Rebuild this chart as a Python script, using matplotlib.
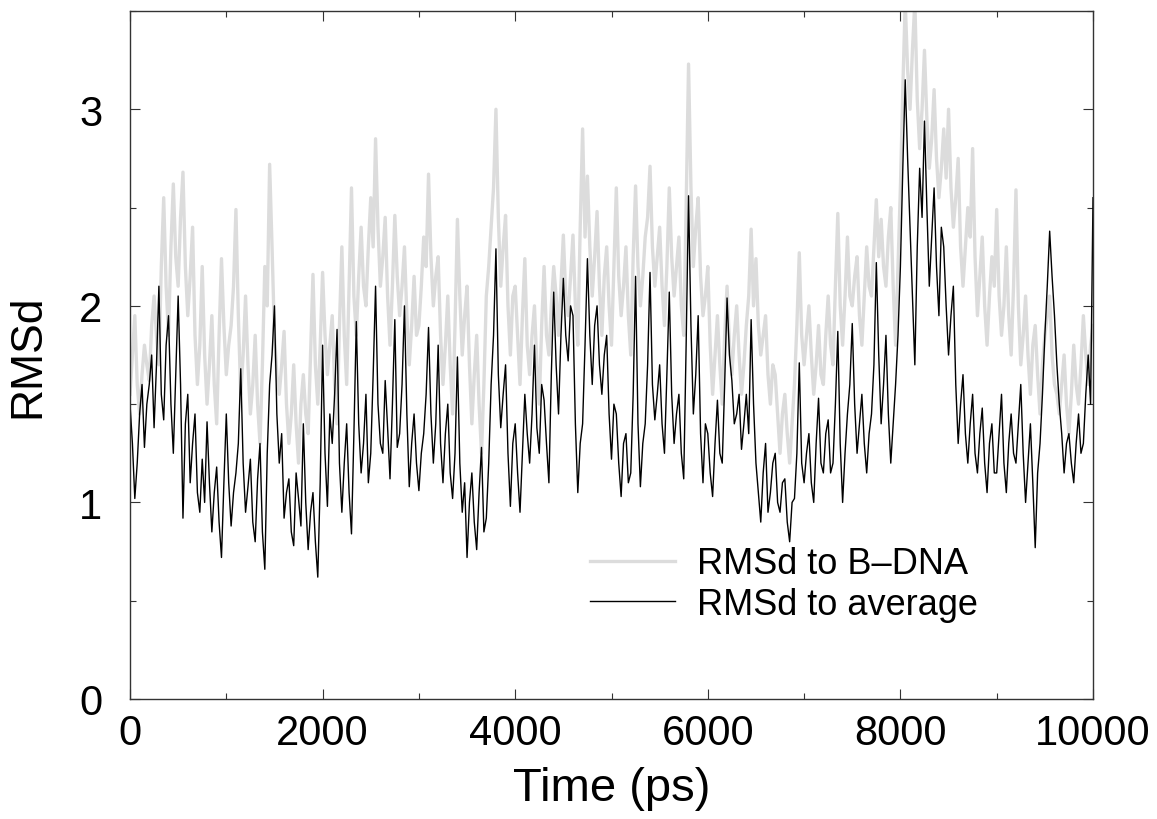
import matplotlib
matplotlib.use("Agg")
import matplotlib.pyplot as plt
from matplotlib.ticker import MultipleLocator
from matplotlib.lines import Line2D
import numpy as np

# time axis (ps), one sample every 25 ps
time_start = 0
time_step = 25

# RMSd to B-DNA (grey)
rmsd_bdna = [
    1.55, 1.75, 1.95, 1.60, 1.45, 1.65, 1.80, 1.70, 1.62, 1.90, 2.05, 1.85, 1.70, 2.20, 2.55, 2.10, 1.85, 2.30, 2.62, 2.25,
    2.10, 2.45, 2.68, 2.20, 1.95, 2.15, 2.40, 1.85, 1.60, 1.80, 2.20, 1.75, 1.50, 1.70, 1.95, 1.60, 1.40, 1.85, 2.24, 1.90,
    1.65, 1.80, 1.90, 2.10, 2.49, 1.95, 1.55, 1.75, 2.05, 1.70, 1.45, 1.60, 1.85, 1.50, 1.30, 1.70, 2.20, 2.00, 2.72, 2.30,
    1.85, 1.65, 1.55, 1.70, 1.87, 1.50, 1.30, 1.45, 1.70, 1.40, 1.20, 1.50, 1.65, 1.45, 1.35, 1.75, 2.16, 1.70, 1.50, 1.80,
    2.17, 1.85, 1.65, 1.80, 1.95, 1.60, 1.40, 1.90, 2.30, 1.85, 1.60, 2.10, 2.60, 2.05, 1.85, 2.15, 2.40, 2.10, 2.00, 2.30,
    2.55, 2.30, 2.85, 2.40, 2.10, 2.25, 2.45, 2.05, 1.80, 2.10, 2.46, 2.15, 1.95, 2.10, 2.30, 1.95, 1.70, 1.90, 2.15, 1.85,
    1.90, 2.10, 2.35, 2.20, 2.67, 2.25, 2.00, 2.15, 2.25, 1.85, 1.60, 1.80, 2.05, 1.70, 1.45, 1.90, 2.44, 2.05, 1.75, 1.95,
    2.10, 1.70, 1.40, 1.65, 1.85, 1.50, 1.25, 1.60, 2.05, 2.20, 2.40, 2.60, 3.00, 2.45, 2.10, 2.30, 2.46, 2.00, 1.75, 2.05,
    2.10, 1.85, 1.60, 1.95, 2.24, 1.80, 1.65, 1.85, 2.00, 1.70, 1.50, 1.90, 2.20, 1.85, 1.75, 2.00, 2.20, 2.05, 1.85, 2.10,
    2.36, 2.05, 1.95, 2.15, 2.36, 2.00, 1.80, 2.40, 2.90, 2.35, 2.66, 2.30, 2.05, 2.25, 2.48, 2.10, 1.85, 2.15, 2.30, 2.00,
    1.80, 2.20, 2.60, 2.15, 1.95, 2.10, 2.30, 1.95, 1.75, 2.25, 2.61, 2.20, 2.00, 2.15, 2.35, 2.45, 2.71, 2.30, 2.10, 2.25,
    2.40, 2.10, 1.90, 2.20, 2.60, 2.25, 2.05, 2.20, 2.35, 2.00, 1.85, 2.50, 3.23, 2.60, 2.20, 2.40, 2.55, 2.15, 1.95, 2.05,
    2.20, 1.80, 1.55, 1.75, 1.95, 1.70, 1.50, 1.85, 2.10, 1.80, 1.65, 1.85, 2.00, 1.75, 1.55, 1.70, 1.90, 2.05, 2.39, 2.00,
    2.24, 1.90, 1.75, 1.85, 1.95, 1.65, 1.50, 1.70, 1.65, 1.45, 1.25, 1.45, 1.55, 1.35, 1.20, 1.40, 1.60, 1.90, 2.27, 1.85,
    1.70, 1.85, 2.00, 1.75, 1.55, 1.70, 1.90, 1.65, 1.60, 1.85, 2.05, 1.80, 1.70, 2.10, 2.47, 2.00, 1.80, 2.05, 2.35, 2.05,
    2.00, 2.15, 2.25, 1.95, 1.80, 2.05, 2.30, 2.10, 2.05, 2.30, 2.54, 2.25, 2.44, 2.20, 2.10, 2.35, 2.50, 2.10, 1.80, 2.20,
    2.60, 3.10, 3.55, 3.20, 3.00, 3.30, 3.55, 3.05, 2.80, 3.00, 3.30, 2.95, 2.70, 2.85, 3.10, 2.75, 2.55, 2.70, 2.90, 2.65,
    3.00, 2.60, 2.40, 2.55, 2.75, 2.30, 2.10, 2.30, 2.50, 2.35, 2.80, 2.25, 1.95, 2.15, 2.35, 2.00, 1.80, 2.05, 2.25, 2.10,
    2.49, 2.05, 1.85, 2.00, 2.30, 1.95, 1.75, 2.10, 2.59, 2.00, 1.70, 1.85, 2.05, 1.75, 1.55, 1.80, 1.90, 1.65, 1.45, 1.70,
    1.85, 1.95, 2.05, 1.75, 1.60, 1.55, 1.45, 1.60, 1.75, 1.50, 1.35, 1.55, 1.80, 1.60, 1.50, 1.70, 1.95, 1.75, 1.60, 1.80,
    1.90,
]

# RMSd to average (black)
rmsd_avg = [
    1.50, 1.30, 1.02, 1.20, 1.45, 1.60, 1.28, 1.50, 1.60, 1.75, 1.38, 1.70, 2.10, 1.55, 1.42, 1.80, 1.95, 1.50, 1.25, 1.65,
    2.05, 1.60, 0.92, 1.40, 1.55, 1.10, 1.30, 1.45, 1.05, 0.95, 1.22, 1.00, 1.41, 1.10, 0.85, 1.05, 1.18, 0.90, 0.72, 1.10,
    1.45, 1.10, 0.88, 1.05, 1.15, 1.30, 1.68, 1.20, 0.95, 1.08, 1.22, 0.90, 0.80, 1.12, 1.30, 0.85, 0.66, 1.25, 1.60, 1.75,
    2.00, 1.45, 1.20, 1.35, 0.92, 1.05, 1.12, 0.85, 0.78, 1.15, 1.02, 0.88, 1.40, 1.00, 0.76, 0.95, 1.05, 0.80, 0.62, 1.10,
    1.80, 1.25, 0.98, 1.45, 1.30, 1.55, 1.88, 1.20, 0.95, 1.20, 1.40, 1.05, 0.84, 1.35, 1.92, 1.40, 1.15, 1.30, 1.55, 1.10,
    1.25, 1.65, 2.10, 1.50, 1.30, 1.25, 1.62, 1.38, 1.12, 1.50, 1.93, 1.28, 1.35, 1.60, 2.00, 1.45, 1.08, 1.30, 1.45, 1.20,
    1.06, 1.25, 1.35, 1.55, 1.89, 1.45, 1.20, 1.40, 1.80, 1.30, 1.10, 1.35, 1.50, 1.15, 1.02, 1.25, 1.74, 1.20, 0.95, 1.10,
    0.72, 1.00, 1.15, 0.90, 0.76, 1.05, 1.28, 0.85, 0.92, 1.20, 1.60, 1.85, 2.29, 1.65, 1.38, 1.55, 1.70, 1.25, 0.98, 1.30,
    1.40, 1.15, 0.95, 1.25, 1.55, 1.35, 1.20, 1.45, 1.80, 1.38, 1.25, 1.60, 1.52, 1.30, 1.10, 1.65, 2.07, 1.70, 1.45, 1.85,
    2.14, 1.85, 1.72, 2.00, 1.95, 1.40, 1.05, 1.30, 1.40, 1.80, 2.24, 1.85, 1.60, 1.90, 2.00, 1.70, 1.55, 1.75, 1.85, 1.45,
    1.22, 1.50, 1.45, 1.20, 1.03, 1.30, 1.35, 1.10, 1.15, 1.55, 2.15, 1.40, 1.08, 1.30, 1.40, 1.70, 2.17, 1.60, 1.42, 1.55,
    1.70, 1.40, 1.25, 1.65, 2.07, 1.55, 1.30, 1.45, 1.55, 1.25, 1.12, 1.80, 2.56, 1.90, 1.45, 1.65, 1.95, 1.35, 1.10, 1.40,
    1.35, 1.15, 1.03, 1.30, 1.52, 1.25, 1.20, 1.60, 2.04, 1.75, 1.62, 1.40, 1.45, 1.55, 1.27, 1.40, 1.55, 1.35, 1.93, 1.50,
    1.20, 1.05, 0.90, 1.15, 1.30, 0.95, 1.05, 1.20, 1.25, 1.00, 0.95, 1.10, 1.12, 0.90, 0.80, 1.00, 1.02, 1.25, 1.71, 1.20,
    1.10, 1.25, 1.35, 1.10, 1.00, 1.30, 1.53, 1.20, 1.15, 1.35, 1.42, 1.15, 1.20, 1.50, 1.87, 1.30, 1.00, 1.25, 1.45, 1.60,
    1.91, 1.50, 1.25, 1.40, 1.55, 1.30, 1.15, 1.35, 1.45, 1.70, 2.22, 1.75, 1.40, 1.60, 1.85, 1.45, 1.20, 1.40, 1.60, 1.85,
    2.20, 2.70, 3.15, 2.75, 2.40, 2.05, 1.70, 2.30, 2.70, 2.45, 2.94, 2.50, 2.10, 2.35, 2.60, 2.20, 1.95, 2.40, 2.30, 2.00,
    1.75, 1.95, 2.10, 1.60, 1.30, 1.50, 1.65, 1.35, 1.20, 1.40, 1.55, 1.25, 1.15, 1.35, 1.48, 1.20, 1.05, 1.30, 1.40, 1.15,
    1.15, 1.35, 1.55, 1.20, 1.05, 1.30, 1.45, 1.25, 1.20, 1.40, 1.60, 1.25, 1.00, 1.20, 1.40, 1.10, 0.77, 1.15, 1.30, 1.55,
    1.85, 2.10, 2.38, 2.15, 1.95, 1.70, 1.50, 1.35, 1.15, 1.30, 1.35, 1.20, 1.10, 1.30, 1.45, 1.25, 1.30, 1.55, 1.75, 1.50,
    2.55,
]

series_labels = ["RMSd to B\u2013DNA", "RMSd to average"]
x_ticks = [0, 2000, 4000, 6000, 8000, 10000]
y_ticks = [0, 1, 2, 3]

time = time_start + time_step * np.arange(len(rmsd_avg))

plt.rcParams['font.family'] = ['Liberation Sans', 'DejaVu Sans']

fig = plt.figure(figsize=(11.57, 8.20), dpi=100)
ax = fig.add_axes([130/1157, 1 - 700/820, (1093-130)/1157, (700-12)/820])

ax.plot(time, rmsd_bdna, color='#dcdcdc', lw=2.4)
ax.plot(time, rmsd_avg, color='black', lw=1.0)

ax.set_xlim(0, 10000)
ax.set_ylim(0, 3.5)
ax.set_xticks(x_ticks)
ax.set_yticks(y_ticks)
ax.xaxis.set_minor_locator(MultipleLocator(1000))
ax.yaxis.set_minor_locator(MultipleLocator(0.5))
ax.tick_params(which='both', direction='in', top=True, right=True, width=0.8, color='#333333')
ax.tick_params(which='major', length=7)
ax.tick_params(which='minor', length=4)
ax.tick_params(axis='x', which='major', labelsize=30, pad=10)
ax.tick_params(axis='y', which='major', labelsize=30, pad=20)
for s in ax.spines.values():
    s.set_linewidth(1.0)
    s.set_color('#333333')

ax.set_xlabel('Time (ps)', fontsize=34)
ax.xaxis.set_label_coords(0.5, -0.098)
ax.set_ylabel('RMSd', fontsize=32)
ax.yaxis.set_label_coords(-0.085, 0.5)

handles = [Line2D([], [], color='#dcdcdc', lw=2.4), Line2D([], [], color='black', lw=1.0)]
ax.legend(handles, series_labels, loc='center left', bbox_to_anchor=((590-130)/963, (700-585)/688),
          frameon=False, fontsize=26, handlelength=2.36, handletextpad=0.6, labelspacing=0.15,
          borderpad=0, borderaxespad=0)

fig.savefig('out.png', dpi=100)
